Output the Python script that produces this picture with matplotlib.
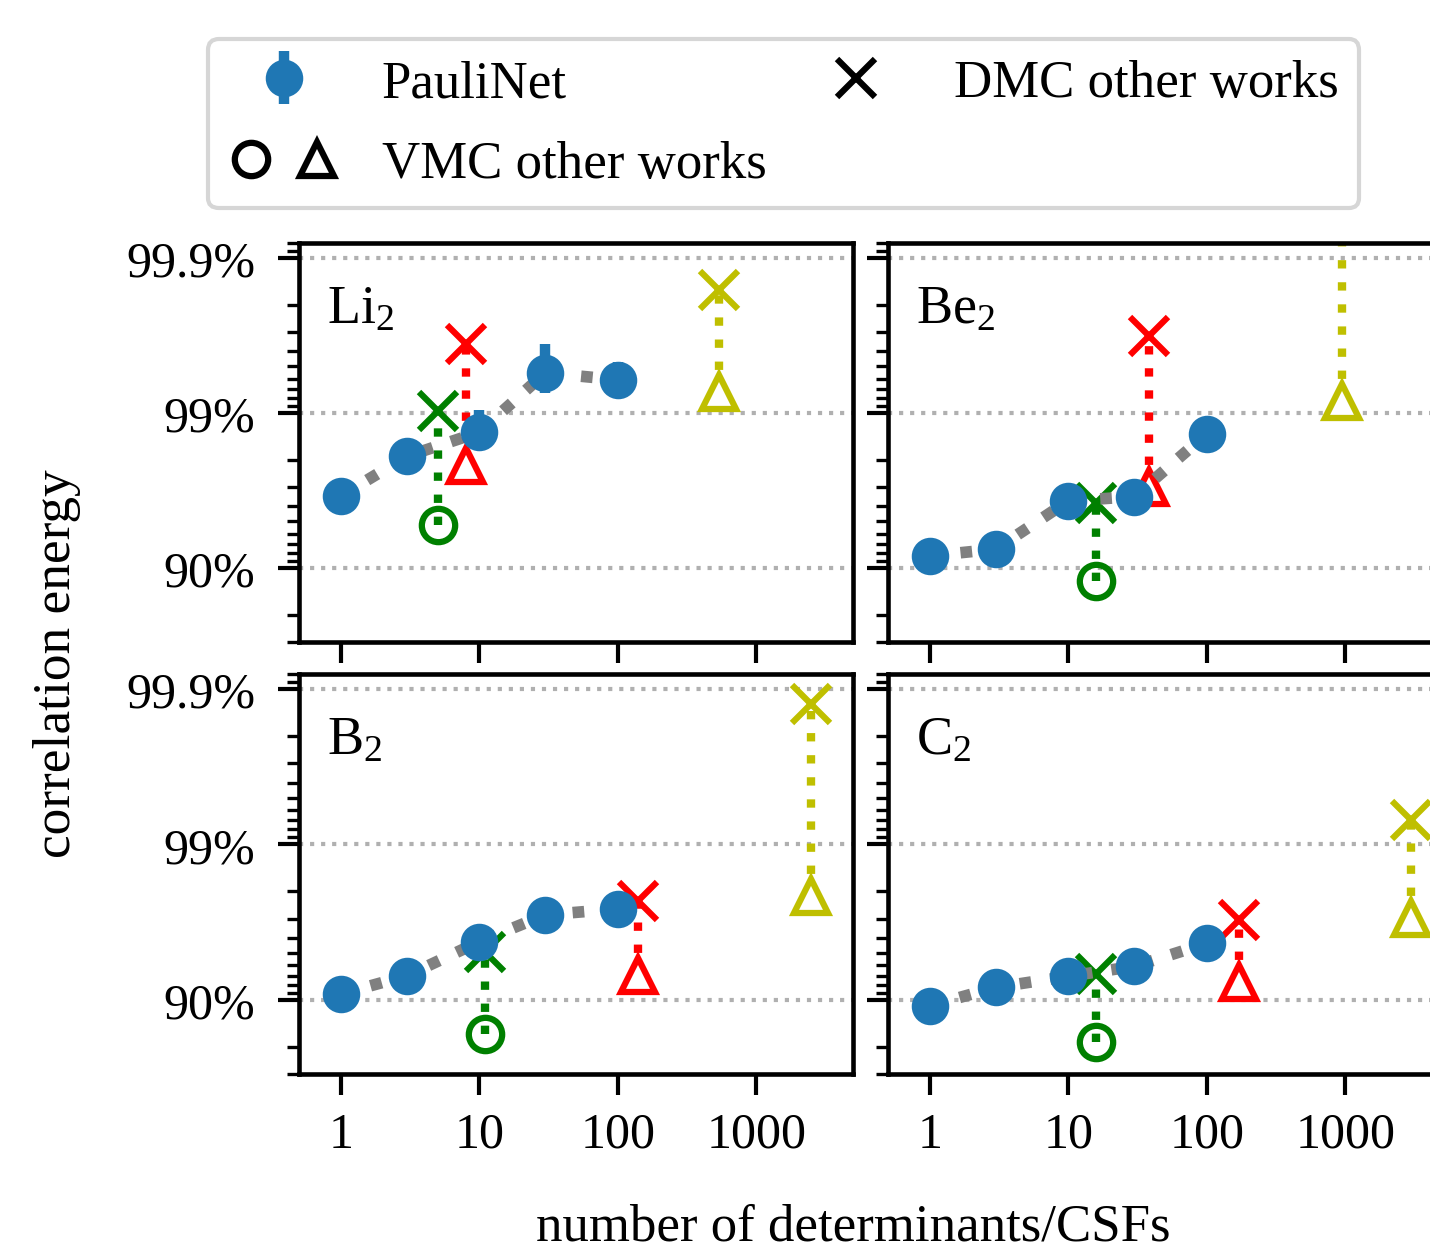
import numpy as np
import matplotlib
matplotlib.use('Agg')
import matplotlib.pyplot as plt
from matplotlib.ticker import FixedLocator, LogLocator, FuncFormatter, NullFormatter
from matplotlib.lines import Line2D
from matplotlib.legend_handler import HandlerTuple

plt.rcParams['font.family'] = ['Liberation Serif', 'DejaVu Serif']
plt.rcParams['mathtext.fontset'] = 'custom'
plt.rcParams['mathtext.rm'] = 'Liberation Serif'
plt.rcParams['mathtext.it'] = 'Liberation Serif:italic'
plt.rcParams['font.size'] = 12

# PauliNet, fraction of correlation energy vs number of determinants
n_dets = [1, 3, 10, 30, 100]
li2_pauli = [0.9657, 0.9810, 0.9867, 0.9945, 0.9939]
li2_err = [0.0003, 0.0005, 0.0037, 0.0019, 0.0014]
be2_pauli = [0.9166, 0.9245, 0.9631, 0.9654, 0.9864]
be2_err = [0.0004, 0.0004, 0.0006, 0.0006, 0.0008]
b2_pauli = [0.9082, 0.9300, 0.9577, 0.9716, 0.9740]
b2_err = [0.0004, 0.0004, 0.0006, 0.0006, 0.0008]
c2_pauli = [0.8907, 0.9168, 0.9294, 0.9391, 0.9567]
c2_err = [0.0004, 0.0004, 0.0006, 0.0006, 0.0008]

# other works (three references each): determinants, VMC and DMC values
li2_ref_dets = [5, 8, 540]
li2_vmc = [0.9474, 0.9783, 0.9927]
li2_dmc = [0.9903, 0.9964, 0.9984]
be2_ref_dets = [16, 38, 950]
be2_vmc = [0.8782, 0.9702, 0.9917]
be2_dmc = [0.9618, 0.9968, 0.9997]
b2_ref_dets = [11, 140, 2500]
b2_vmc = [0.834, 0.931, 0.9784]
b2_dmc = [0.9506, 0.9770, 0.99876]
c2_ref_dets = [16, 170, 3000]
c2_vmc = [0.812, 0.9236, 0.9702]
c2_dmc = [0.9317, 0.9694, 0.9930]

labels = ['Li$_2$', 'Be$_2$', 'B$_2$', 'C$_2$']
paulis = [li2_pauli, be2_pauli, b2_pauli, c2_pauli]
errs = [li2_err, be2_err, b2_err, c2_err]
refs = [(li2_ref_dets, li2_vmc, li2_dmc), (be2_ref_dets, be2_vmc, be2_dmc),
        (b2_ref_dets, b2_vmc, b2_dmc), (c2_ref_dets, c2_vmc, c2_dmc)]
ref_colors = ['g', 'r', 'y']
vmc_markers = ['o', '^', '^']

fig = plt.figure(figsize=(1430 / 300, 1252 / 300), dpi=300)
positions = [[0.2091, 0.4864, 0.3874, 0.3187], [0.621, 0.4864, 0.3874, 0.3187],
             [0.2091, 0.1414, 0.3874, 0.3195], [0.621, 0.1414, 0.3874, 0.3195]]

pct = FuncFormatter(lambda m, pos: '{:g}%'.format(round((1 - m) * 100, 3)))
handle_pauli = None
for i in range(4):
    ax = fig.add_axes(positions[i])
    ref_x, vmc, dmc = refs[i]
    for j in range(3):
        c = ref_colors[j]
        ax.plot([ref_x[j], ref_x[j]], [1 - vmc[j], 1 - dmc[j]], ls=':', color=c, lw=2, zorder=2)
        fill = 'none' if vmc_markers[j] == 'o' else 'white'
        ax.plot(ref_x[j], 1 - vmc[j], marker=vmc_markers[j], ls='none', color=c,
                mfc=fill, ms=8, mew=1.5, zorder=2.2)
        ax.plot(ref_x[j], 1 - dmc[j], marker='x', ls='none', color=c, ms=9, mew=1.5, zorder=2.2)
    ax.plot(n_dets, 1 - np.array(paulis[i]), ls=':', color='gray', lw=2.8, zorder=2.5)
    cont = ax.errorbar(n_dets, 1 - np.array(paulis[i]), yerr=errs[i], fmt='o', color='C0',
                       ms=8, elinewidth=2.5, capsize=0, zorder=3)
    if handle_pauli is None:
        handle_pauli = cont

    ax.set_xscale('log')
    ax.set_yscale('log')
    ax.set_xlim(0.5, 5000)
    ax.set_ylim(0.3, 8e-4)
    ax.xaxis.set_major_locator(FixedLocator([1, 10, 100, 1000]))
    ax.xaxis.set_minor_locator(LogLocator(base=10, subs=(4, 7)))
    ax.xaxis.set_minor_formatter(NullFormatter())
    ax.yaxis.set_major_locator(FixedLocator([0.1, 0.01, 0.001]))
    ax.yaxis.set_minor_locator(LogLocator(base=10, subs=np.arange(2, 10)))
    ax.yaxis.set_minor_formatter(NullFormatter())
    if i < 2:
        ax.xaxis.set_major_formatter(NullFormatter())
    else:
        ax.xaxis.set_major_formatter(FuncFormatter(lambda x, pos: '{:g}'.format(x)))
    if i % 2 == 1:
        ax.yaxis.set_major_formatter(NullFormatter())
    else:
        ax.yaxis.set_major_formatter(pct)
    ax.tick_params(axis='y', which='major', length=5, width=1.0, pad=5.5)
    ax.tick_params(axis='x', which='major', length=5, width=1.0, pad=4)
    ax.tick_params(which='minor', length=3, width=0.8)
    for sp in ax.spines.values():
        sp.set_linewidth(1.1)
    ax.grid(axis='y', which='major', ls=':', color='#b0b0b0', lw=1)
    ax.set_axisbelow(True)
    ax.text(0.05, 0.80, labels[i], transform=ax.transAxes, ha='left', va='baseline', fontsize=13)

h_vmc = (Line2D([], [], marker='o', ls='none', color='k', mfc='none', ms=8, mew=1.5),
         Line2D([], [], marker='^', ls='none', color='k', mfc='none', ms=8, mew=1.5))
h_dmc = Line2D([], [], marker='x', ls='none', color='k', ms=9, mew=1.5)
fig.legend([handle_pauli, h_vmc, h_dmc], ['PauliNet', 'VMC other works', 'DMC other works'],
           ncol=2, loc='upper center', bbox_to_anchor=(0.548, 0.968), borderaxespad=0,
           handler_map={tuple: HandlerTuple(ndivide=None)}, fontsize=12.7,
           handlelength=2.1, handletextpad=0.8, columnspacing=0.65, borderpad=0.38,
           labelspacing=0.62)

fig.text(0.04, 0.47, 'correlation energy', rotation=90, ha='center', va='center', fontsize=12.8)
fig.text(0.597, 0.0, 'number of determinants/CSFs', ha='center', va='bottom', fontsize=12.7)

fig.savefig('out.png', dpi=300)
